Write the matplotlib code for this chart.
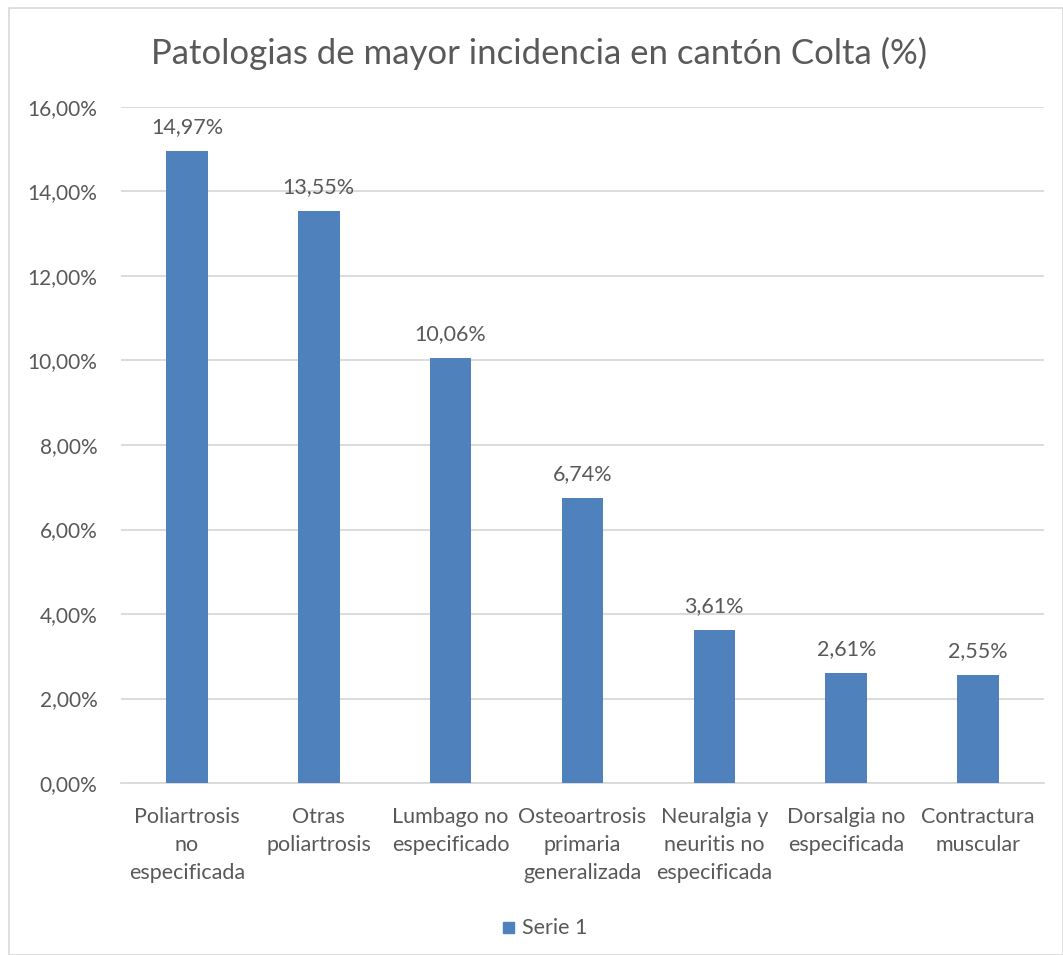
import matplotlib.pyplot as plt
from matplotlib.patches import Rectangle

# datos
categorias = ['Poliartrosis\nno\nespecificada', 'Otras\npoliartrosis', 'Lumbago no\nespecificado',
              'Osteoartrosis\nprimaria\ngeneralizada', 'Neuralgia y\nneuritis no\nespecificada',
              'Dorsalgia no\nespecificada', 'Contractura\nmuscular']
valores = [14.97, 13.55, 10.06, 6.74, 3.61, 2.61, 2.55]
yticks = [0, 2, 4, 6, 8, 10, 12, 14, 16]

azul = '#4F81BD'
gris = '#595959'

plt.rcParams['font.family'] = ['Lato', 'DejaVu Sans']

fig = plt.figure(figsize=(10.63, 9.55), dpi=100)
ax = fig.add_axes([121/1063, 1-783/955, (1044-121)/1063, (783-107)/955])

x = range(len(valores))
ax.bar(x, valores, width=0.315, color=azul, zorder=3)
ax.set_xlim(-0.5, len(valores)-0.5)
ax.set_ylim(0, 16)
ax.set_yticks(yticks)
ax.yaxis.set_major_formatter(plt.FuncFormatter(lambda v, p: ('%.2f%%' % v).replace('.', ',')))
ax.set_xticks(list(x))
ax.set_xticklabels(categorias, linespacing=1.52, va='top')
ax.tick_params(axis='both', length=0, colors=gris)
ax.tick_params(axis='y', pad=17, labelsize=15)
ax.tick_params(axis='x', pad=17, labelsize=15.5)
ax.grid(axis='y', color='#D9D9D9', linewidth=1.3, zorder=0)
for s in ['top', 'right', 'left']:
    ax.spines[s].set_visible(False)
ax.spines['bottom'].set_color('#D9D9D9')
ax.spines['bottom'].set_linewidth(1.3)

# etiquetas de datos
for i, v in enumerate(valores):
    ax.annotate(('%.2f%%' % v).replace('.', ','), (i, v), xytext=(0, 10),
                textcoords='offset points', ha='center', va='bottom',
                fontsize=15.5, color=gris)

fig.text(539/1063, 1-53/955, 'Patologias de mayor incidencia en cantón Colta (%)',
         ha='center', va='center', fontsize=25, color=gris)

# leyenda
fig.patches.append(Rectangle((503/1063, 1-933/955), 11/1063, 11/955,
                             transform=fig.transFigure, color=azul))
fig.text(522/1063, 1-928/955, 'Serie 1', ha='left', va='center', fontsize=15.5, color=gris)

# borde del gráfico
fig.patches.append(Rectangle((9/1063, 0), 1 - 9/1063, 1-8/955, transform=fig.transFigure,
                             fill=False, edgecolor='#D9D9D9', linewidth=1.2))

fig.savefig('out.png', dpi=100)
